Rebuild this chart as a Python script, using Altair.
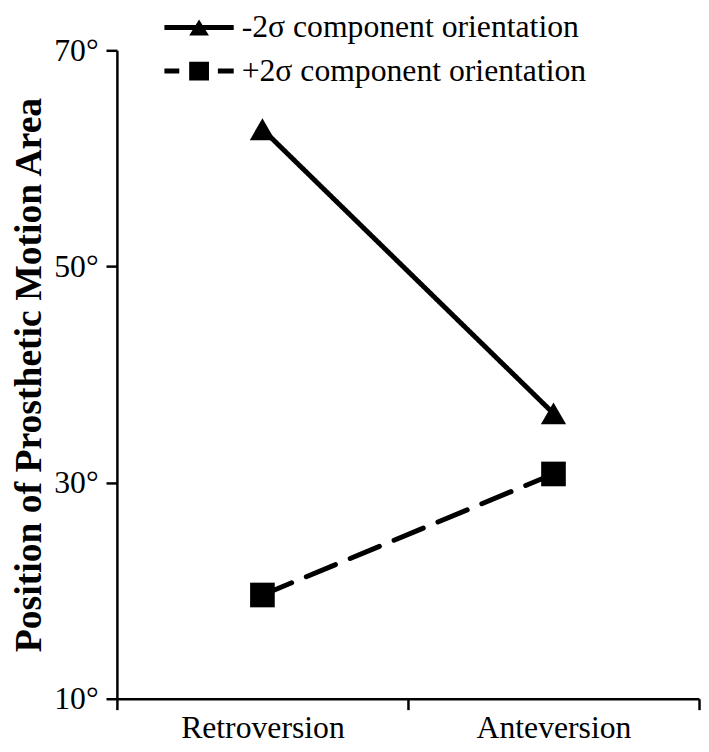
import altair as alt
import pandas as pd

categories = ["Retroversion", "Anteversion"]
series = ["-2σ component orientation", "+2σ component orientation"]
minus_values = [62.7, 36.4]
plus_values = [19.6, 30.8]
y_ticks = [10, 30, 50, 70]

rows = []
for s, vals in zip(series, [minus_values, plus_values]):
    for c, v in zip(categories, vals):
        rows.append({"category": c, "series": s, "value": v})
df = pd.DataFrame(rows)

FONT = "Times New Roman, Liberation Serif, serif"

x_enc = alt.X(
    "category:N",
    sort=categories,
    scale=alt.Scale(paddingInner=0, paddingOuter=0),
    axis=alt.Axis(
        title=None, labelAngle=0, labelFontSize=32, labelFont=FONT,
        labelColor="black", tickSize=11, tickWidth=2.5, tickColor="black",
        domainColor="black", domainWidth=2.5, labelPadding=3, tickBand="extent",
    ),
)
y_enc = alt.Y(
    "value:Q",
    scale=alt.Scale(domain=[10, 70], nice=False, zero=False),
    axis=alt.Axis(
        title="Position of Prosthetic Motion Area", titleFont=FONT,
        titleFontSize=38, titleFontWeight="bold", titleColor="black",
        titlePadding=5, values=y_ticks, labelExpr="datum.value + '°'",
        labelFontSize=32, labelFont=FONT, labelColor="black", labelPadding=8,
        tickSize=11, tickWidth=2.5, tickColor="black", domainColor="black",
        domainWidth=2.5, grid=False,
    ),
)

base = alt.Chart(df)

lines = base.mark_line(color="black", strokeWidth=5, strokeCap="round").encode(
    x=x_enc,
    y=y_enc,
    strokeDash=alt.StrokeDash(
        "series:N",
        scale=alt.Scale(domain=series, range=[[1, 0], [32, 16]]),
        legend=None,
    ),
)

points = base.mark_point(filled=True, color="black", opacity=1).encode(
    x=x_enc,
    y=y_enc,
    shape=alt.Shape(
        "series:N",
        scale=alt.Scale(domain=series, range=["triangle-up", "square"]),
        legend=None,
    ),
    size=alt.Size(
        "series:N",
        scale=alt.Scale(domain=series, range=[650, 620]),
        legend=None,
    ),
)

legend_paths = [
    "M-3.5,-0.25H3.5V0.25H-3.5Z M0,-0.8L1,0.8H-1Z",
    "M-3.5,-0.25H-2V0.25H-3.5Z M-1,-0.95H1V0.95H-1Z M1.9,-0.25H3.5V0.25H1.9Z",
]

legend_layer = base.mark_point(filled=True, color="black", opacity=1).encode(
    shape=alt.Shape(
        "series:N",
        scale=alt.Scale(domain=series, range=legend_paths),
        legend=alt.Legend(
            title=None, orient="none", legendX=67, legendY=-39,
            symbolSize=400, symbolFillColor="black", symbolStrokeWidth=0,
            labelFont=FONT, labelFontSize=32, labelColor="black",
            labelOffset=27, rowPadding=12, labelLimit=600,
        ),
    ),
).transform_filter("false")

chart = (
    alt.layer(lines, points, legend_layer)
    .resolve_scale(shape="independent", strokeDash="independent", size="independent")
    .resolve_legend(shape="independent")
    .properties(width=588, height=655, padding={"left": 3, "top": 0, "right": 0, "bottom": 0})
    .configure(font=FONT)
    .configure_legend(labelFont=FONT)
    .configure_view(stroke=None)
)

chart.save("out.html", embed_options={"renderer": "svg", "actions": False})
